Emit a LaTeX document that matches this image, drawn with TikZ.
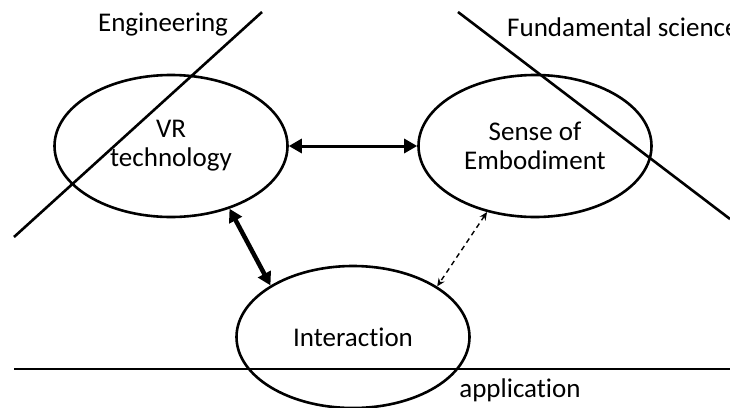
\documentclass[tikz,border=0pt]{standalone}
\usepackage{fontspec}
\setmainfont[Ligatures=NoCommon]{Carlito}
\usetikzlibrary{shapes.geometric,arrows.meta}
\begin{document}
\begin{tikzpicture}[x=1pt,y=-1pt,
  blob/.style={ellipse,draw,line width=2.6pt,minimum width=233pt,minimum height=142pt,inner sep=0pt,align=center,font=\fontsize{27}{29}\selectfont},
  lab/.style={font=\fontsize{27}{29}\selectfont,inner sep=0pt},
  divider/.style={line width=2.6pt},
  thickarrow/.style={line width=3pt,{Triangle[length=13pt,width=14pt]}-{Triangle[length=13pt,width=14pt]}},
  heavyarrow/.style={line width=4.5pt,{Triangle[length=13pt,width=14pt]}-{Triangle[length=13pt,width=14pt]}},
  dasharrow/.style={line width=1.4pt,dash pattern=on 5pt off 4pt,{Stealth[length=8pt,width=7pt]}-{Stealth[length=8pt,width=7pt]}}
]
\useasboundingbox (0,0) rectangle (730,407);
\begin{scope}
\clip (0,0) rectangle (730,407);
% dividing lines
\coordinate (e1) at (262,12);
\coordinate (e2) at (14,237);
\coordinate (f1) at (458,12);
\coordinate (f2) at (730,219);
\coordinate (a1) at (14,369);
\coordinate (a2) at (730,369);
\draw[divider] (e1) -- (e2);
\draw[divider] (f1) -- (f2);
\draw[divider] (a1) -- (a2);
% ellipses
\node[blob] (vr) at (171,146) {VR\\technology};
\node[blob] (se) at (535,146) {Sense of\\Embodiment};
\node[blob] (in) at (353,337) {Interaction};
% labels
\node[lab,anchor=base] (eng) at (163,31) {Engineering};
\node[lab,anchor=base west] (fun) at (507,36) {Fundamental science};
\node[lab,anchor=base] (app) at (520,397) {application};
% arrows
\draw[thickarrow] (vr.east) -- (se.west);
\draw[heavyarrow] (vr.-47.8) -- (in.148.3);
\draw[dasharrow] (se.234.7) -- (in.31.4);
\end{scope}
\end{tikzpicture}
\end{document}
